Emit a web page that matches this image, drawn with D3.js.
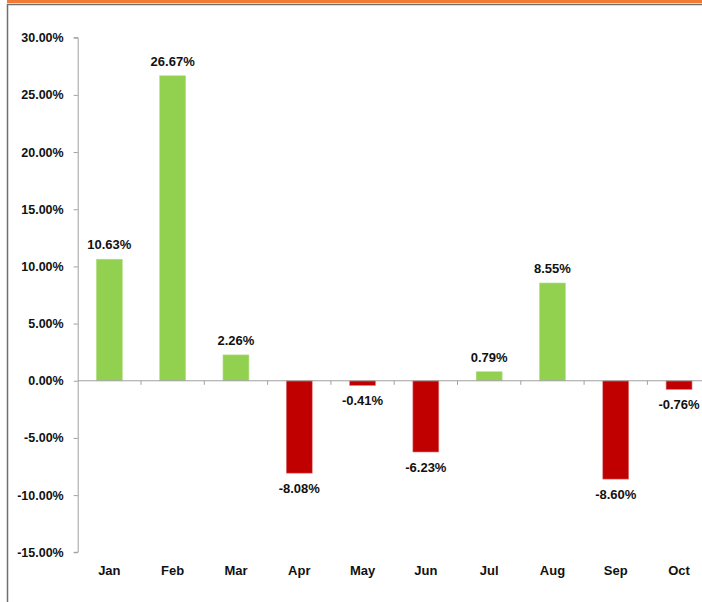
<!DOCTYPE html>
<html>
<head>
<meta charset="utf-8">
<script src="https://cdn.jsdelivr.net/npm/d3@7"></script>
<style>
  body { margin: 0; background: #fff; }
  svg { display: block; font-family: Arial, "Liberation Sans", sans-serif; }
</style>
</head>
<body>
<div id="main"></div>
<script>
var months = ["Jan", "Feb", "Mar", "Apr", "May", "Jun", "Jul", "Aug", "Sep", "Oct"];
var returns = [10.63, 26.67, 2.26, -8.08, -0.41, -6.23, 0.79, 8.55, -8.60, -0.76];
var yTicks = [30, 25, 20, 15, 10, 5, 0, -5, -10, -15];

var width = 702, height = 602;
var svg = d3.select("#main").append("svg")
  .attr("width", width)
  .attr("height", height);//create canvas

// top border
svg.append("rect").attr("x", 7).attr("y", 0).attr("width", width - 7).attr("height", 3).attr("fill", "#f37a35");
svg.append("line").attr("x1", 7).attr("x2", width).attr("y1", 4.5).attr("y2", 4.5).attr("stroke", "#707070").attr("stroke-width", 1.5);
svg.append("line").attr("x1", 7.5).attr("x2", 7.5).attr("y1", 4).attr("y2", height).attr("stroke", "#707070").attr("stroke-width", 1.5);

var yScale = d3.scaleLinear()
  .domain([-15, 30])
  .range([552.3, 37.7]);//y scale
var xScale = d3.scaleBand()
  .domain(months)
  .range([77.7, 710.7])
  .paddingInner(0.59)
  .paddingOuter(0.295);//bar scale
var xCat = d3.scaleBand()
  .domain(months)
  .range([77.7, 710.7]);//category slots

// y axis
var yAxis = d3.axisLeft(yScale)
  .tickValues(yTicks)
  .tickSize(4)
  .tickPadding(10)
  .tickFormat(function(d) { return d.toFixed(2) + "%"; });
var gy = svg.append("g")
  .attr("transform", "translate(77.7, 0)")
  .call(yAxis);
gy.select(".domain").attr("stroke", "#a0a0a0").attr("d", "M-4," + yScale(30) + "H0.5V" + yScale(-15) + "H-4");
gy.selectAll(".tick line").attr("stroke", "#a0a0a0");
gy.selectAll(".tick text")
  .attr("fill", "#111")
  .style("font-size", "12.5px")
  .style("font-weight", "bold");

// bars
svg.append("g").selectAll("rect").data(returns).enter().append("rect")
  .attr("x", function(d, i) { return xScale(months[i]); })
  .attr("width", xScale.bandwidth())
  .attr("y", function(d) { return yScale(Math.max(0, d)); })
  .attr("height", function(d) { return Math.abs(yScale(d) - yScale(0)); })
  .attr("fill", function(d) { return d >= 0 ? "#92d050" : "#c00000"; })
  .attr("stroke", function(d) { return d >= 0 ? "#b6e08a" : "#e08080"; })
  .attr("stroke-width", 0.6);//draw bars

// x axis line at zero
var zeroY = yScale(0);
svg.append("line")
  .attr("x1", 77.7).attr("x2", width)
  .attr("y1", zeroY).attr("y2", zeroY)
  .attr("stroke", "#a0a0a0");
svg.append("g").selectAll("line").data(months.slice(1)).enter().append("line")
  .attr("x1", function(d) { return xCat(d); })
  .attr("x2", function(d) { return xCat(d); })
  .attr("y1", zeroY)
  .attr("y2", zeroY + 4)
  .attr("stroke", "#a0a0a0");//category ticks

// category labels at the bottom
svg.append("g").selectAll("text").data(months).enter().append("text")
  .attr("x", function(d) { return xCat(d) + xCat.bandwidth() / 2; })
  .attr("y", 575)
  .attr("text-anchor", "middle")
  .attr("fill", "#111")
  .style("font-size", "13px")
  .style("font-weight", "bold")
  .text(function(d) { return d; });

// value labels
svg.append("g").selectAll("text").data(returns).enter().append("text")
  .attr("x", function(d, i) { return xScale(months[i]) + xScale.bandwidth() / 2; })
  .attr("y", function(d) { return d >= 0 ? yScale(d) - 10 : yScale(d) + 20; })
  .attr("text-anchor", "middle")
  .attr("fill", "#111")
  .style("font-size", "13px")
  .style("font-weight", "bold")
  .text(function(d) { return d.toFixed(2) + "%"; });
</script>
</body>
</html>
